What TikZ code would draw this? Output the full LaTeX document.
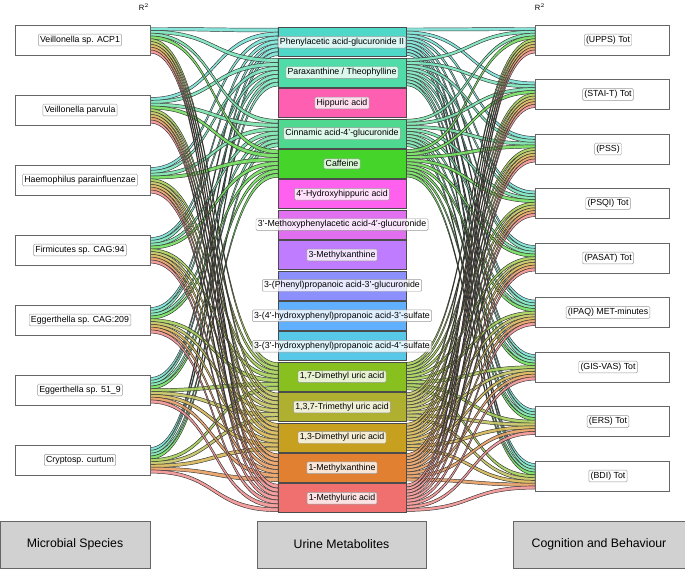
\documentclass[tikz,border=0pt]{standalone}
\usepackage{fontspec}
\setmainfont{Liberation Sans}
\begin{document}
\definecolor{cA}{HTML}{4FD8C8}
\definecolor{cB}{HTML}{4FDCA8}
\definecolor{cC}{HTML}{FF5FB0}
\definecolor{cD}{HTML}{4FD890}
\definecolor{cE}{HTML}{44D42A}
\definecolor{cF}{HTML}{FF60EE}
\definecolor{cG}{HTML}{E070F0}
\definecolor{cH}{HTML}{C07CFF}
\definecolor{cI}{HTML}{8C90FF}
\definecolor{cJ}{HTML}{60B0FF}
\definecolor{cK}{HTML}{58C8E8}
\definecolor{cL}{HTML}{88C020}
\definecolor{cM}{HTML}{B0B030}
\definecolor{cN}{HTML}{C8A020}
\definecolor{cO}{HTML}{E08030}
\definecolor{cP}{HTML}{F07070}
\begin{tikzpicture}[x=0.03cm,y=-0.03cm,
  ribbon/.style={fill=#1!75, draw=black!80, line width=0.4pt, fill opacity=0.9},
  box/.style={draw=black!60, fill=white, line width=0.5pt},
  lbl/.style={draw=black!40, fill=white, fill opacity=0.8, text opacity=1, rounded corners=1pt,
    inner sep=1.5pt, font=\fontsize{7.5}{8}\selectfont},
  group/.style={draw=black!60, fill=black!18, minimum height=1.41cm, font=\fontsize{10.5}{12}\selectfont}]
\useasboundingbox (0,0) rectangle (685,568);
% ribbons species -> metabolites, metabolites -> cognition
\foreach \m/\c [count=\j from 0] in {0/cA,1/cB,3/cD,4/cE,11/cL,12/cM,13/cN,14/cO,15/cP}{
  \foreach \i in {0,...,6}{
    \pgfmathsetmacro\ya{25+70*\i+2.5+\j*2.8}
    \pgfmathsetmacro\yb{\ya+3.2}
    \pgfmathsetmacro\yc{27+\m*30.4+1.2+\i*3.95}
    \pgfmathsetmacro\yd{\yc+3.8}
    \filldraw[ribbon=\c] (150,\ya) .. controls (218,\ya) and (210,\yc) .. (278,\yc) -- (278,\yd)
      .. controls (210,\yd) and (218,\yb) .. (150,\yb) -- cycle;
  }
  \foreach \k in {0,...,8}{
    \pgfmathsetmacro\ya{27+\m*30.4+1.0+\k*3.05}
    \pgfmathsetmacro\yb{\ya+3.0}
    \pgfmathsetmacro\yc{25+54.5*\k+2.5+\j*2.8}
    \pgfmathsetmacro\yd{\yc+3.2}
    \filldraw[ribbon=\c] (406,\ya) .. controls (474,\ya) and (467,\yc) .. (535,\yc) -- (535,\yd)
      .. controls (467,\yd) and (474,\yb) .. (406,\yb) -- cycle;
  }
}
% species
\foreach \t [count=\i from 0] in {Veillonella sp. ACP1,Veillonella parvula,Haemophilus parainfluenzae,
  Firmicutes sp. CAG:94,Eggerthella sp. CAG:209,Eggerthella sp. 51\_9,Cryptosp. curtum}{
  \draw[box] (15,25+70*\i) rectangle (150,55+70*\i);
  \node[lbl] (s\i) at (80,40+70*\i) {\t};
}
% cognition
\foreach \t [count=\k from 0] in {(UPPS) Tot,(STAI-T) Tot,(PSS),(PSQI) Tot,(PASAT) Tot,
  (IPAQ) MET-minutes,(GIS-VAS) Tot,(ERS) Tot,(BDI) Tot}{
  \draw[box] (535,25+54.5*\k) rectangle (669,55+54.5*\k);
  \node[lbl] (r\k) at (608,40+54.5*\k) {\t};
}
% metabolites
\foreach \t/\c [count=\m from 0] in {Phenylacetic acid-glucuronide II/cA,{Paraxanthine / Theophylline}/cB,
  Hippuric acid/cC,Cinnamic acid-4'-glucuronide/cD,Caffeine/cE,4'-Hydroxyhippuric acid/cF,
  3'-Methoxyphenylacetic acid-4'-glucuronide/cG,3-Methylxanthine/cH,
  3-(Phenyl)propanoic acid-3'-glucuronide/cI,3-(4'-hydroxyphenyl)propanoic acid-3'-sulfate/cJ,
  3-(3'-hydroxyphenyl)propanoic acid-4'-sulfate/cK,{1,7-Dimethyl uric acid}/cL,
  {1,3,7-Trimethyl uric acid}/cM,{1,3-Dimethyl uric acid}/cN,1-Methylxanthine/cO,1-Methyluric acid/cP}{
  \draw[fill=\c, draw=black!70, line width=0.5pt] (278,27+\m*30.4+0.7) rectangle (406,27+\m*30.4+29.7);
  \node[lbl] (m\m) at (342,27+\m*30.4+15.2) {\t};
}
\node[font=\fontsize{6.5}{7}\selectfont] (rl) at (144,7) {R$^2$};
\node[font=\fontsize{6.5}{7}\selectfont] (rr) at (540,7) {R$^2$};
\node[group, minimum width=4.5cm] (g1) at (75,544.5) {Microbial Species};
\node[group, minimum width=5.07cm] (g2) at (341.5,544.5) {Urine Metabolites};
\node[group, minimum width=5.16cm] (g3) at (599,544.5) {Cognition and Behaviour};
\end{tikzpicture}
\end{document}
